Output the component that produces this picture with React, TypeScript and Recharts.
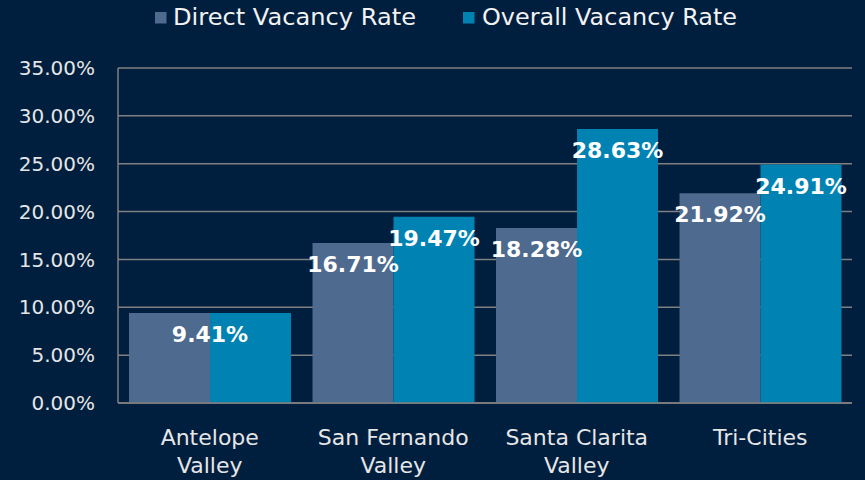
import React from "react";
import { BarChart, Bar, XAxis, YAxis, CartesianGrid, Legend, LabelList } from "recharts";

const categories = ["Antelope\nValley", "San Fernando\nValley", "Santa Clarita\nValley", "Tri-Cities"];
const directVacancy = [9.41, 16.71, 18.28, 21.92];
const overallVacancy = [9.41, 19.47, 28.63, 24.91];
const yTicks = [0, 5, 10, 15, 20, 25, 30, 35];
const seriesNames = ["Direct Vacancy Rate", "Overall Vacancy Rate"];

const BG = "#001e3e";
const DIRECT = "#4e6a8e";
const OVERALL = "#0083b3";
const GRID = "#808080";
const FONT = "'DejaVu Sans', 'Liberation Sans', sans-serif";

const data = categories.map((c, i) => ({
  name: c,
  direct: directVacancy[i],
  overall: overallVacancy[i],
}));

const fmt = (v: number) => `${v.toFixed(2)}%`;

const XTick = (props: any) => {
  const { x, y, payload } = props;
  const lines = String(payload.value).split("\n");
  return (
    <g>
      {lines.map((l: string, i: number) => (
        <text
          key={i}
          x={x}
          y={y + 34 + i * 28}
          textAnchor="middle"
          fill="#e6e6e6"
          fontSize={22}
          fontFamily={FONT}
        >
          {l}
        </text>
      ))}
    </g>
  );
};

const makeLabel = (series: "direct" | "overall") => (props: any) => {
  const { x, y, width, value, index } = props;
  const same = directVacancy[index] === overallVacancy[index];
  if (same && series === "overall") return null;
  const cx = same ? x + width : x + width / 2;
  return (
    <text
      x={cx}
      y={y + 29}
      textAnchor="middle"
      fill="#ffffff"
      fontSize={22}
      fontWeight="bold"
      fontFamily={FONT}
    >
      {fmt(Number(value))}
    </text>
  );
};

const legendLayout = [
  { rx: 155, tx: 173, tl: 243 },
  { rx: 463, tx: 482, tl: 255 },
];

const LegendContent = (props: any) => {
  const { payload } = props;
  return (
    <svg width={865} height={40} style={{ display: "block" }}>
      {(payload || []).map((p: any, i: number) => {
        const l = legendLayout[i];
        return (
          <g key={i}>
            <rect x={l.rx} y={12} width={11.5} height={11.5} fill={p.color} />
            <text
              x={l.tx}
              y={25}
              fontSize={23}
              fill="#f2f2f2"
              fontFamily={FONT}
              textLength={l.tl}
              lengthAdjust="spacingAndGlyphs"
            >
              {p.value}
            </text>
          </g>
        );
      })}
    </svg>
  );
};

export default function App() {
  return (
    <div style={{ position: "absolute", left: 0, top: 0, width: 865, height: 480, background: BG }}>
      <BarChart
        width={865}
        height={480}
        data={data}
        margin={{ top: 68, right: 13, bottom: 0, left: 0 }}
        barCategoryGap="6%"
        barGap={0}
      >
        <CartesianGrid vertical={false} stroke={GRID} strokeWidth={1.5} />
        <XAxis
          dataKey="name"
          height={77}
          tick={<XTick />}
          tickLine={false}
          axisLine={{ stroke: GRID, strokeWidth: 1.5 }}
          interval={0}
        />
        <YAxis
          width={118}
          domain={[0, 35]}
          ticks={yTicks}
          tickFormatter={fmt}
          tickLine={false}
          tickSize={6}
          tickMargin={17}
          axisLine={{ stroke: GRID, strokeWidth: 1.5 }}
          tick={{ fill: "#e6e6e6", fontSize: 20, fontFamily: FONT }}
          interval={0}
        />
        <Legend
          layout="horizontal"
          verticalAlign="middle"
          align="center"
          wrapperStyle={{ top: 0, left: 0, width: 865, height: 40 }}
          content={<LegendContent />}
        />
        <Bar dataKey="direct" name={seriesNames[0]} fill={DIRECT} isAnimationActive={false}>
          <LabelList dataKey="direct" content={makeLabel("direct")} />
        </Bar>
        <Bar dataKey="overall" name={seriesNames[1]} fill={OVERALL} isAnimationActive={false}>
          <LabelList dataKey="overall" content={makeLabel("overall")} />
        </Bar>
      </BarChart>
    </div>
  );
}
